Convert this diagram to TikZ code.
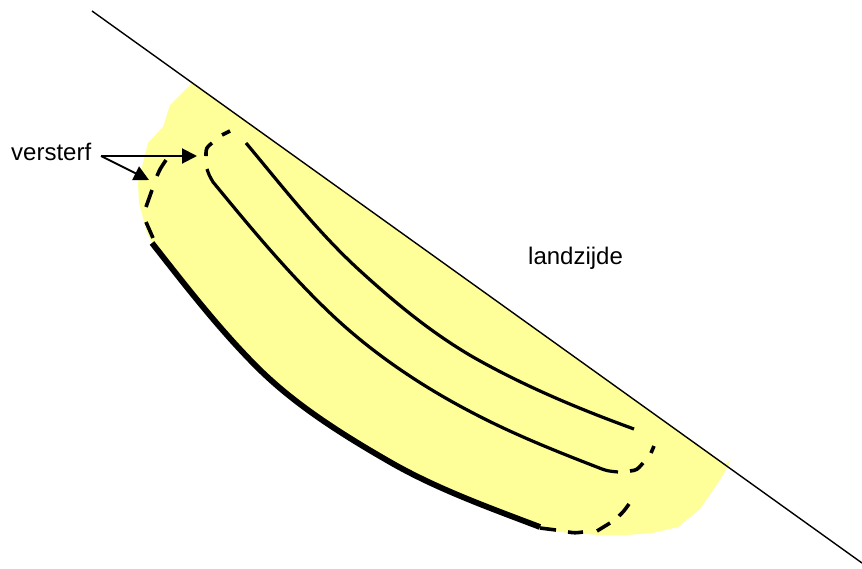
\documentclass[tikz,border=0pt]{standalone}
\usepackage{fontspec}
\setmainfont{Liberation Sans}
\usetikzlibrary{arrows.meta}
\definecolor{sandyellow}{RGB}{255,255,153}
\begin{document}
\begin{tikzpicture}[x=1pt, y=-1pt,
    >={Triangle[length=15pt, width=15pt]},
    label/.style={inner sep=0pt, font=\fontsize{24}{28}\selectfont},
    slope/.style={line width=1.4pt},
    ridge/.style={line width=3.2pt},
    base/.style={line width=5.8pt},
    dead/.style={line width=3.6pt},
    pointer/.style={->, line width=2pt}]

  \useasboundingbox (0,0) rectangle (862,568);

  % sand body
  \fill[sandyellow] (192,83) -- (725,464) -- (730.5,460) -- (727,468) -- (720,480) -- (700,509)
    -- (678,527) -- (652,533) -- (627,535) -- (600,535) -- (585,534) -- (560,532) -- (540,527)
    .. controls (490,508) and (437,489) .. (390,462)
    .. controls (343,435) and (295,405) .. (257,367)
    .. controls (219,329) and (185,285) .. (152,243)
    -- (147,233) -- (139,203) -- (138,183) -- (148,143) -- (163,127) -- (170,105) -- cycle;

  % land side
  \coordinate (top) at (92,11);
  \coordinate (bottom) at (862,563);
  \draw[slope] (top) -- (bottom);

  % outer contour
  \draw[base] (152,243) .. controls (185,285) and (219,329) .. (257,367)
    .. controls (295,405) and (343,435) .. (390,462)
    .. controls (437,489) and (490,508) .. (540,527);
  \draw[dead] (153,238) -- (146,222)
    (146,207) -- (152,190)
    (157,176) .. controls (160,169) .. (166,160);
  \draw[dead] (540,528) -- (556,530)
    (568,532) .. controls (575,533) .. (583,532)
    (597,531) -- (610,523)
    (619,516) .. controls (624,511) .. (629,504);

  % inner contours
  \draw[ridge] (246,143) .. controls (282,186) and (316,230) .. (357,268)
    .. controls (393,301) and (430,332) .. (473,357)
    .. controls (524,386) and (579,409) .. (634,429);
  \draw[ridge] (207,169) .. controls (209,175) .. (213,182)
    .. controls (250,227) and (288,273) .. (330,313)
    .. controls (372,353) and (421,386) .. (473,413)
    .. controls (515,435) and (558,452) .. (602,469)
    .. controls (608,471) .. (618,472);
  \draw[dead] (230,131) -- (222,135)
    (212,143) .. controls (206,148) .. (206,156)
    (630,471) .. controls (637,470) .. (643,463)
    (654,446) -- (651,453);

  % labels
  \node[label, anchor=west] (versterf) at (11,152) {versterf};
  \node[label, anchor=west] (landzijde) at (528,258) {landzijde};

  \coordinate (fork) at (101,156);
  \coordinate (tipa) at (197,156);
  \coordinate (tipb) at (149,180);
  \draw[pointer] (fork) -- (tipa);
  \draw[pointer] (fork) -- (tipb);
\end{tikzpicture}
\end{document}
